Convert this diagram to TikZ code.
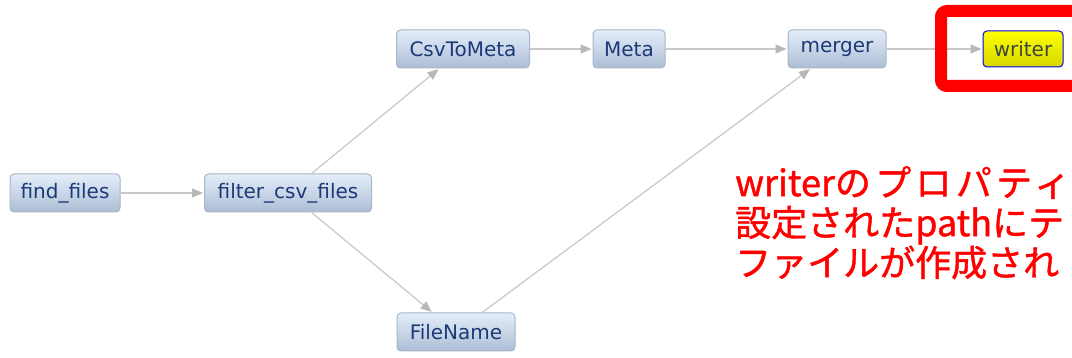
\documentclass[tikz,border=0pt]{standalone}
\usepackage{fontspec}
\usepackage{xcolor}
\usepackage{tikz}
\usetikzlibrary{arrows.meta, positioning}
\newfontfamily\nodefont{DejaVu Sans}
\newfontfamily\jpfont[FakeBold=1.2]{Noto Sans CJK JP}
\definecolor{boxtop}{RGB}{228, 238, 250}
\definecolor{boxbottom}{RGB}{172, 189, 212}
\definecolor{boxborder}{RGB}{168, 182, 200}
\definecolor{boxtext}{RGB}{28, 58, 120}
\definecolor{edgegray}{RGB}{200, 200, 200}
\definecolor{tipgray}{RGB}{184, 184, 184}
\definecolor{hiyellow}{RGB}{255, 255, 0}
\definecolor{hiyellowdark}{RGB}{214, 214, 0}
\definecolor{writertext}{RGB}{60, 70, 60}
\tikzset{
    stage/.style = {rectangle, draw=boxborder, top color=boxtop, bottom color=boxbottom, line width=1pt, rounded corners=4pt, minimum height=38pt, inner sep=0pt, text=boxtext, font=\nodefont\fontsize{20}{24}\selectfont},
    active/.style = {stage, draw=blue, top color=hiyellow, bottom color=hiyellowdark, text=writertext, minimum height=36pt},
    flow/.style = {draw=edgegray, line width=1.2pt, -{Triangle[length=11pt, width=9pt, color=tipgray]}, shorten >=1pt},
    mark box/.style = {draw=red, line width=12pt, rounded corners=6pt},
    note/.style = {text=red, align=left, inner sep=0pt, font=\jpfont\fontsize{36}{40}\selectfont}
}
\begin{document}
\begin{tikzpicture}[x=1pt, y=-1pt]
\useasboundingbox (0,0) rectangle (1072,358);
\fill[white] (0,0) rectangle (1072,358);

\node (find) [stage, minimum width=110pt] at (65,193) {find\_files};
\node (filter) [stage, minimum width=167pt] at (288,193) {filter\_csv\_files};
\node (csvmeta) [stage, minimum width=133pt] at (463,49) {CsvToMeta};
\node (meta) [stage, minimum width=72pt] at (629,49) {Meta};
\node (merger) [stage, minimum width=98pt] at (837,49) {merger};
\node (writer) [active, minimum width=80pt] at (1023,49) {writer};
\node (fname) [stage, minimum width=118pt] at (456,332) {FileName};

\draw [flow] (find) -- (filter);
\draw [flow] (filter) -- (csvmeta);
\draw [flow] (filter) -- (fname);
\draw [flow] (csvmeta) -- (meta);
\draw [flow] (meta) -- (merger);
\draw [flow] (fname) -- (merger);
\draw [flow] (merger) -- (writer);

% highlight runs past the right edge
\begin{scope}
\clip (0,0) rectangle (1072,358);
\draw [mark box] (941,11) rectangle (1090,86);
\end{scope}
\node (remark) [note, anchor=north west] at (735,166) {writer{\addfontfeature{LetterSpace=12}のプロパティ}\\設定されたpathにテ\\ファイルが作成され};
\end{tikzpicture}
\end{document}
